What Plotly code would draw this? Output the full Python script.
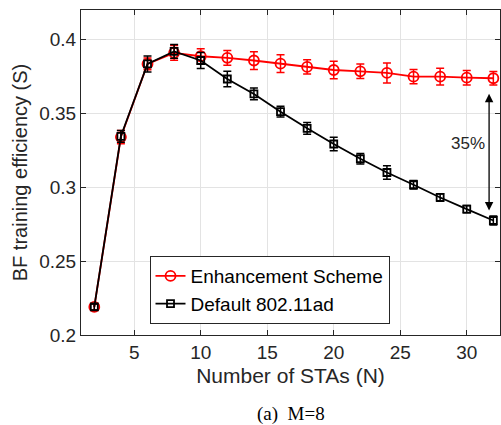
import plotly.graph_objects as go

n_stas = [2, 4, 6, 8, 10, 12, 14, 16, 18, 20, 22, 24, 26, 28, 30, 32]
enh = [0.219, 0.334, 0.3835, 0.391, 0.3887, 0.3876, 0.3858, 0.3837, 0.3815, 0.3794, 0.3785, 0.3774, 0.3749, 0.3749, 0.3742, 0.3738]
enh_err = [0.002, 0.0045, 0.004, 0.005, 0.005, 0.005, 0.006, 0.006, 0.0048, 0.0059, 0.0049, 0.0068, 0.0049, 0.0056, 0.0049, 0.0045]
dflt = [0.219, 0.3345, 0.3835, 0.392, 0.3858, 0.3733, 0.3632, 0.3512, 0.3399, 0.3293, 0.3193, 0.310, 0.3017, 0.2931, 0.2852, 0.2775]
dflt_err = [0.002, 0.004, 0.0054, 0.0047, 0.0054, 0.0053, 0.004, 0.0037, 0.004, 0.0045, 0.0036, 0.0045, 0.0028, 0.0025, 0.0025, 0.003]

x_ticks = [5, 10, 15, 20, 25, 30]
y_ticks = [0.2, 0.25, 0.3, 0.35, 0.4]
y_tick_labels = ["0.2", "0.25", "0.3", "0.35", "0.4"]

font_sans = "Liberation Sans, Arial, sans-serif"

fig = go.Figure()
fig.add_trace(go.Scatter(
    x=n_stas, y=enh, name="Enhancement Scheme", mode="lines+markers",
    line=dict(color="#ff0000", width=1.8),
    marker=dict(symbol="circle-open", size=10, color="#ff0000", line=dict(width=1.8)),
    error_y=dict(type="data", array=enh_err, color="#ff0000", thickness=1.5, width=4),
))
fig.add_trace(go.Scatter(
    x=n_stas, y=dflt, name="Default 802.11ad", mode="lines+markers",
    line=dict(color="#000000", width=1.8),
    marker=dict(symbol="square-open", size=7, color="#000000", line=dict(width=1.8)),
    error_y=dict(type="data", array=dflt_err, color="#000000", thickness=1.5, width=4),
))

# double arrow 35%
fig.add_annotation(x=31.68, y=0.2843, ax=31.68, ay=0.3643, xref="x", yref="y", axref="x", ayref="y",
                   showarrow=True, arrowhead=2, startarrowhead=2, arrowside="end+start",
                   arrowwidth=1.3, arrowsize=1.3, startarrowsize=1.3, arrowcolor="#000000", text="")
fig.add_annotation(x=30.1, y=0.3295, xref="x", yref="y", text="35%", showarrow=False,
                   font=dict(family=font_sans, size=17, color="#262626"))
fig.add_annotation(x=0.5, xref="paper", y=-0.283, yref="paper", yanchor="bottom", text="(a)\u00a0 M=8",
                   showarrow=False,
                   font=dict(family="Liberation Serif, Times New Roman, serif", size=19, color="#000000"))

fig.update_layout(
    width=501, height=425,
    margin=dict(l=81, r=1, t=10, b=90, autoexpand=False),
    paper_bgcolor="white", plot_bgcolor="white",
    font=dict(family=font_sans, size=19, color="#262626"),
    showlegend=True,
    legend=dict(x=0.1635, y=0.243, xanchor="left", yanchor="top", xref="paper", yref="paper",
                bgcolor="white", bordercolor="#262626", borderwidth=1,
                font=dict(size=19, color="#000000"), tracegroupgap=0,
                itemwidth=30),
)

fig.update_xaxes(range=[1, 32.5], tickvals=x_ticks, ticks="inside", ticklen=5, tickcolor="#262626",
                 showline=True, linecolor="#262626", linewidth=1, mirror="ticks",
                 showgrid=True, gridcolor="#e3e3e3", gridwidth=1, zeroline=False,
                 title=dict(text="Number of STAs (N)", font=dict(size=21), standoff=6),
                 tickfont=dict(size=19))
fig.update_yaxes(range=[0.2, 0.42], tickvals=y_ticks, ticktext=y_tick_labels, ticks="inside", ticklen=5,
                 tickcolor="#262626", showline=True, linecolor="#262626", linewidth=1, mirror="ticks",
                 showgrid=True, gridcolor="#e3e3e3", gridwidth=1, zeroline=False,
                 title=dict(text="BF training efficiency (S)", font=dict(size=20), standoff=6),
                 tickfont=dict(size=19))

fig.write_html("out.html", config={"displayModeBar": False},
               post_script="document.body.style.margin='0';")
